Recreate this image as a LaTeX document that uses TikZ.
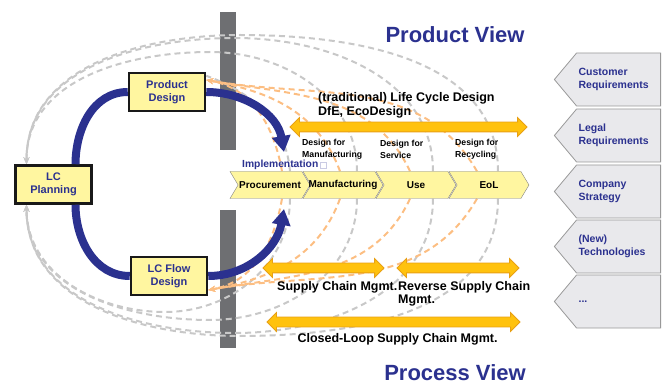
\documentclass[tikz,border=0pt]{standalone}
\usepackage{fontspec}
\setmainfont{Liberation Sans}
\usepackage{tikz}
\usetikzlibrary{shapes.symbols,shapes.arrows,arrows.meta,backgrounds,positioning}

\definecolor{lcblue}{RGB}{43,49,143}
\definecolor{boxyellow}{RGB}{255,246,160}
\definecolor{gold}{RGB}{255,194,14}
\definecolor{goldline}{RGB}{232,160,20}
\definecolor{dashorange}{RGB}{252,190,130}
\definecolor{dashgray}{RGB}{200,200,200}
\definecolor{bargray}{RGB}{110,111,114}
\definecolor{reqgray}{RGB}{233,233,236}

\begin{document}
\begin{tikzpicture}
  [x=1pt,y=1pt,every node/.style={font=\bfseries},
   planbox/.style={draw=black!90,line width=2.5pt,fill=boxyellow,text=lcblue,align=center,
     minimum width=76pt,minimum height=38pt,inner sep=0pt,font=\bfseries\fontsize{11}{13}\selectfont},
   phase/.style={shape=signal,signal to=east,signal from=west,signal pointer angle=118,
     draw=gray,fill=boxyellow,minimum width=80pt,minimum height=27pt,inner sep=0pt,
     font=\bfseries\fontsize{10}{12}\selectfont},
   req/.style={shape=signal,signal to=west,signal pointer angle=100,draw=gray!80,fill=reqgray,
     line width=0.8pt,text=lcblue,align=left,text width=80pt,inner xsep=2pt,minimum height=53pt,
     font=\bfseries\fontsize{10.5}{13}\selectfont},
   goldarrow/.style={shape=double arrow,fill=gold,draw=goldline,line width=0.8pt,
     double arrow head extend=4.5pt,inner xsep=0pt,inner ysep=4.5pt},
   grayarc/.style={dashgray,line width=2pt,dash pattern=on 6pt off 4pt},
   orangearc/.style={dashorange,line width=2pt,dash pattern=on 6pt off 4pt},
   flow/.style={lcblue,line width=8pt},
   >={Stealth[length=7pt,width=6pt]}]

  \tikzstyle{dfx} = [anchor=west,align=left,inner sep=0pt,font=\bfseries\fontsize{8.7}{12}\selectfont]
  \tikzstyle{mgmt} = [inner sep=0pt,font=\bfseries\fontsize{12.5}{13}\selectfont]

  \useasboundingbox (0,0) rectangle (665,-385);

  \node[planbox] (pd)  at (167,-92)    {Product\\Design};
  \node[planbox] (lcp) at (53.5,-184.5) {LC\\Planning};
  \node[planbox] (fd)  at (169,-276)   {LC Flow\\Design};

  \node[phase] (proc) at (270,-185) {Procurement};
  \node[phase] (manu) at (343,-185) {\makebox[50pt]{Manufacturing}};
  \node[phase] (use)  at (416,-185) {Use};
  \node[phase] (eol)  at (489,-185) {EoL};

  \node[req,anchor=east] (cust) at (661,-79.5) {Customer\\Requirements};
  \node[req,anchor=east] (legal) at (661,-135.5) {Legal\\Requirements};
  \node[req,anchor=east] (strat) at (661,-191.5) {Company\\Strategy};
  \node[req,anchor=east] (tech) at (661,-246.5) {(New)\\Technologies};
  \node[req,anchor=east] (more) at (661,-301.5) {...};

  \node[text=lcblue,font=\bfseries\fontsize{22}{24}\selectfont] (pview) at (455,-35) {Product View};
  \node[text=lcblue,font=\bfseries\fontsize{22}{24}\selectfont] (prview) at (455,-373) {Process View};

  \node[anchor=west,align=left,inner sep=0pt,font=\bfseries\fontsize{12.5}{14}\selectfont]
    (lcdtxt) at (318,-105) {(traditional) Life Cycle Design\\DfE, EcoDesign};
  \node[dfx] (dfm) at (302,-149) {Design for\\Manufacturing};
  \node[dfx] (dfs) at (380,-149) {Design for\\Service};
  \node[dfx] (dfr) at (455,-149) {Design for\\Recycling};
  \node[anchor=west,inner sep=0pt,text=lcblue,font=\bfseries\fontsize{10.3}{12}\selectfont]
    (impl) at (242,-165) {Implementation};
  \node[draw=lcblue!25,line width=0.6pt,minimum size=6pt,inner sep=0pt,right=1.5pt of impl] (implbox) {};

  \node[goldarrow,minimum height=237pt] (lcd)   at (408.5,-127) {};
  \node[goldarrow,minimum height=121pt] (scm)   at (323.5,-268) {};
  \node[goldarrow,minimum height=122pt] (rscm)  at (458,-268)   {};
  \node[goldarrow,minimum height=253pt] (clscm) at (393.5,-322) {};

  \node[mgmt,anchor=west] (scmtxt) at (277,-287) {Supply Chain Mgmt.};
  \node[mgmt,anchor=north west,align=left] (rscmtxt) at (398,-281) {Reverse Supply Chain\\Mgmt.};
  \node[mgmt] (clscmtxt) at (397.5,-339) {Closed-Loop Supply Chain Mgmt.};

  \coordinate (tipa) at (284,-152);
  \coordinate (tipb) at (284,-209);
  \coordinate (gtop) at ([xshift=-27pt]lcp.north);
  \coordinate (gbot) at ([xshift=-27pt]lcp.south);
  \coordinate (otop) at ([yshift=12pt]pd.east);
  \coordinate (obot) at ([yshift=-14pt]fd.east);

  \draw[flow] ([xshift=22pt]lcp.north) to[out=90,in=180] (pd.west);
  \draw[flow,-{Triangle[length=16pt,width=18pt]}] (pd.east) to[out=0,in=100] (tipa);
  \draw[flow] ([xshift=22pt]lcp.south) to[out=-90,in=180] (fd.west);
  \draw[flow,-{Triangle[length=16pt,width=18pt]}] (fd.east) to[out=0,in=-100] (tipb);

  \begin{scope}[on background layer]
    \fill[bargray] (220,-12) rectangle (236,-150);
    \fill[bargray] (220,-210) rectangle (236,-348);
    \foreach \n/\dx/\ax/\ay in {eol/9/240/35,use/17/235/38,manu/14/210/52}
      \draw[grayarc,->] ([xshift=\dx pt]\n.north) to[out=90,in=0] (\ax,-\ay) to[out=180,in=90] (gtop);
    \draw[grayarc] ([xshift=20pt]proc.north) to[out=95,in=-20] ([yshift=-4pt]pd.north east);
    \foreach \n/\dx/\ax/\ay in {eol/9/240/336,use/17/235/333,manu/14/210/320,proc/20/165/312}
      \draw[grayarc,->] ([xshift=\dx pt]\n.south) to[out=-90,in=0] (\ax,-\ay) to[out=180,in=-90] (gbot);
    \foreach \n/\dx/\o in {proc/12/100,manu/-3/110,use/-6/115,eol/-12/120}
      \draw[orangearc,->] ([xshift=\dx pt]\n.north) to[out=\o,in=-10] (otop);
    \foreach \n/\dx/\o in {proc/12/-100,manu/-3/-110,use/-6/-115,eol/-12/-120}
      \draw[orangearc,->] ([xshift=\dx pt]\n.south) to[out=\o,in=10] (obot);
  \end{scope}
\end{tikzpicture}
\end{document}
